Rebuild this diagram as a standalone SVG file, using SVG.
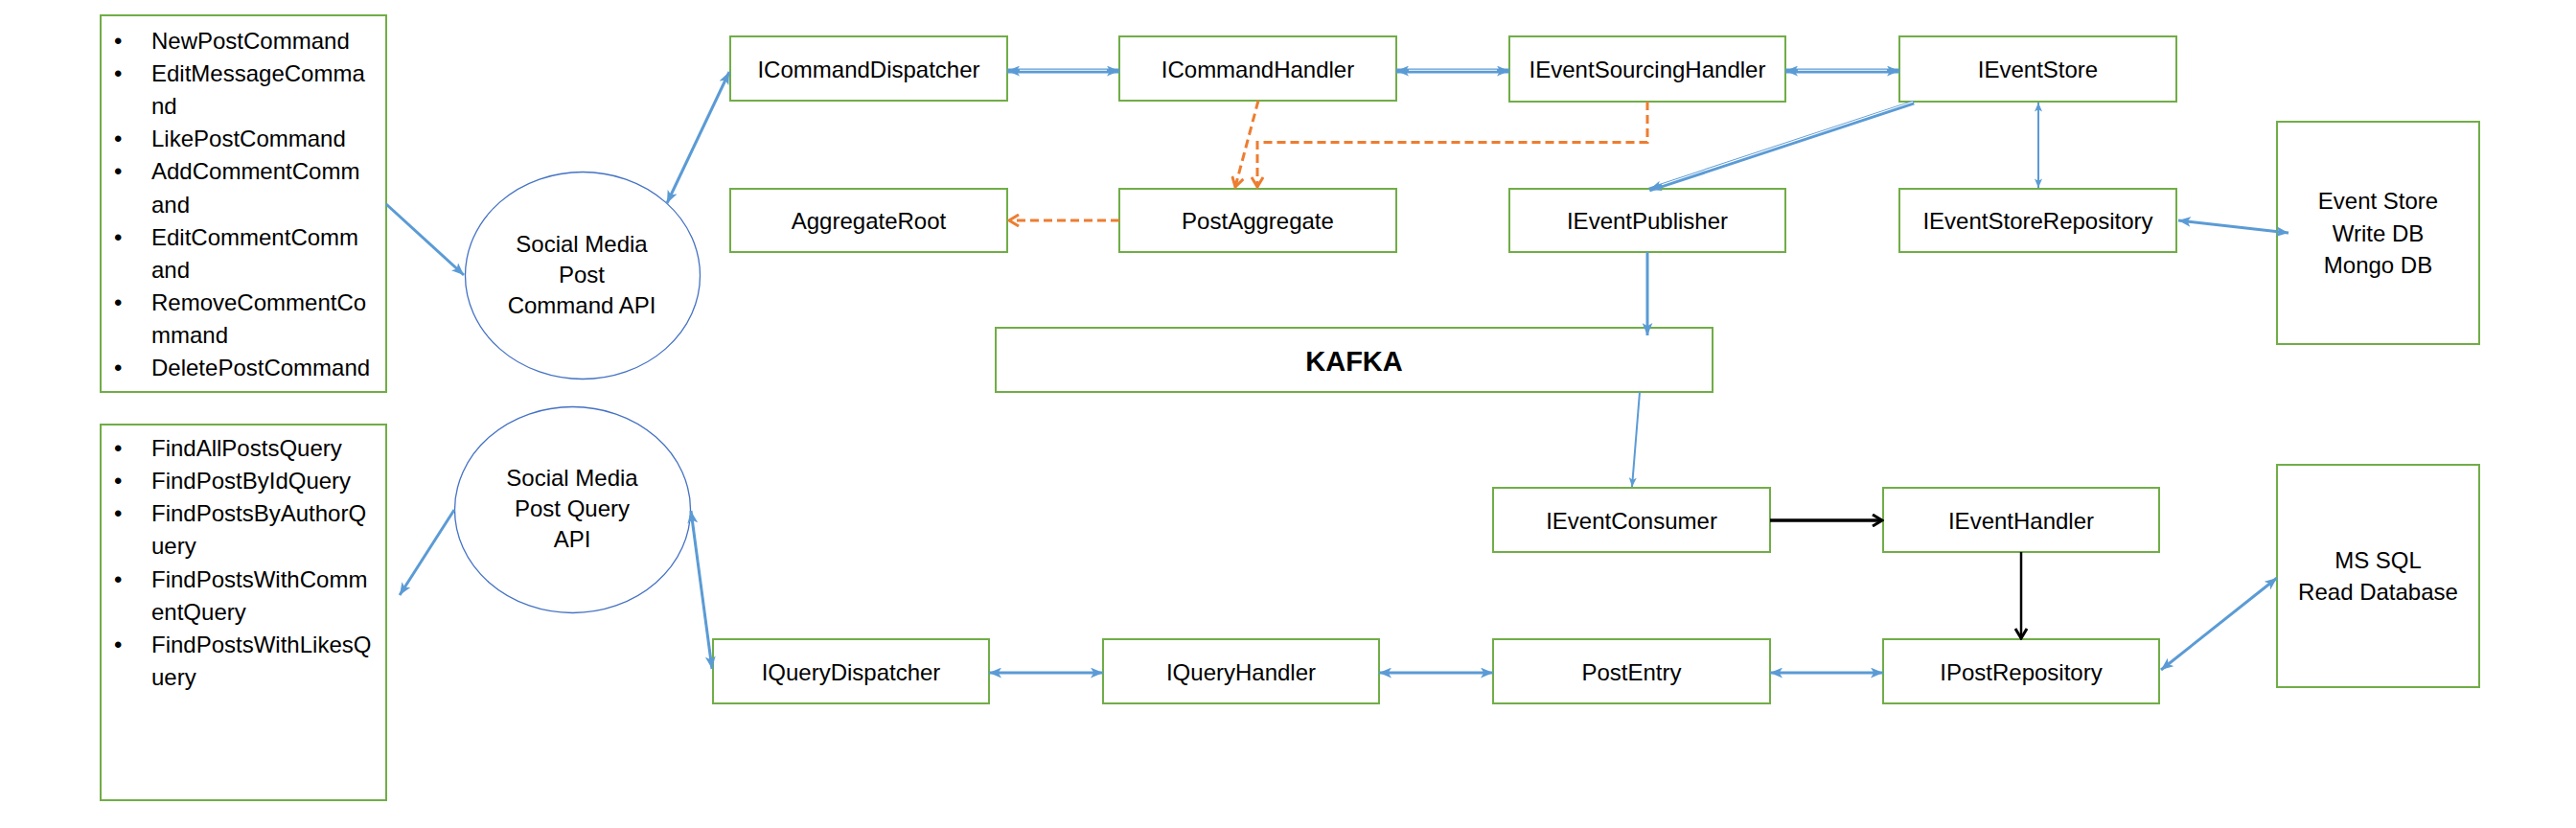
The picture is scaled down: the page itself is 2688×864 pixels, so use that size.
<svg xmlns="http://www.w3.org/2000/svg" width="2688" height="864" viewBox="0 0 2688 864">
<style>
.box{fill:#fff;stroke:#70AD47;stroke-width:2}
.ell{fill:#fff;stroke:#4472C4;stroke-width:1.3}
text{font-family:"Liberation Sans",Arial,sans-serif;font-size:24px;fill:#000}
.c{text-anchor:middle}
.b{font-weight:bold;font-size:29px}
.bl{fill:none;stroke:#5B9BD5;stroke-width:3}
.bl2{fill:none;stroke:#5B9BD5;stroke-width:2}
.dbl{fill:none;stroke:#5B9BD5;stroke-width:5}
.wh{fill:none;stroke:#fff;stroke-width:1.1}
.or{fill:none;stroke:#ED7D31;stroke-width:3;stroke-dasharray:9 5}
.bk{fill:none;stroke:#000;stroke-width:3.5}
.bk2{fill:none;stroke:#000;stroke-width:2.5}
</style>
<defs>
<marker id="ab" viewBox="0 0 12 10" refX="12" refY="5" markerWidth="13" markerHeight="11" markerUnits="userSpaceOnUse" orient="auto-start-reverse"><path d="M0,0 L12,5 L0,10 L3,5 z" fill="#5B9BD5"/></marker>
<marker id="abs" viewBox="0 0 12 10" refX="12" refY="5" markerWidth="10" markerHeight="8" markerUnits="userSpaceOnUse" orient="auto-start-reverse"><path d="M0,0 L12,5 L0,10 L3,5 z" fill="#5B9BD5"/></marker>
<marker id="ao" viewBox="0 0 14 14" refX="12" refY="7" markerWidth="14" markerHeight="14" markerUnits="userSpaceOnUse" orient="auto"><path d="M2,1 L12,7 L2,13" fill="none" stroke="#ED7D31" stroke-width="3"/></marker>
<marker id="ak" viewBox="0 0 14 14" refX="12" refY="7" markerWidth="14" markerHeight="14" markerUnits="userSpaceOnUse" orient="auto"><path d="M2,1 L12,7 L2,13" fill="none" stroke="#000" stroke-width="3"/></marker>
</defs>
<rect width="2688" height="864" fill="#fff"/>

<g id="commands">
<rect class="box" x="105" y="16" width="298" height="393"/>
<text x="119" y="50.7">•</text><text x="158" y="50.7">NewPostCommand</text>
<text x="119" y="85">•</text><text x="158" y="85">EditMessageComma</text>
<text x="158" y="119">nd</text>
<text x="119" y="153.3">•</text><text x="158" y="153.3">LikePostCommand</text>
<text x="119" y="187.3">•</text><text x="158" y="187.3">AddCommentComm</text>
<text x="158" y="221.7">and</text>
<text x="119" y="255.7">•</text><text x="158" y="255.7">EditCommentComm</text>
<text x="158" y="290">and</text>
<text x="119" y="324">•</text><text x="158" y="324">RemoveCommentCo</text>
<text x="158" y="358.3">mmand</text>
<text x="119" y="392.3">•</text><text x="158" y="392.3">DeletePostCommand</text>
</g>

<g id="queries">
<rect class="box" x="105" y="443" width="298" height="392"/>
<text x="119" y="476">•</text><text x="158" y="476">FindAllPostsQuery</text>
<text x="119" y="510">•</text><text x="158" y="510">FindPostByIdQuery</text>
<text x="119" y="544.3">•</text><text x="158" y="544.3">FindPostsByAuthorQ</text>
<text x="158" y="578.3">uery</text>
<text x="119" y="612.7">•</text><text x="158" y="612.7">FindPostsWithComm</text>
<text x="158" y="646.7">entQuery</text>
<text x="119" y="681">•</text><text x="158" y="681">FindPostsWithLikesQ</text>
<text x="158" y="715">uery</text>
</g>

<g id="commandApi">
<ellipse class="ell" cx="608" cy="287.5" rx="122.5" ry="108"/>
<text class="c" x="607" y="263">Social Media</text>
<text class="c" x="607" y="295">Post</text>
<text class="c" x="607" y="327">Command API</text>
</g>

<g id="queryApi">
<ellipse class="ell" cx="597.5" cy="532" rx="123" ry="107.5"/>
<text class="c" x="597" y="507.3">Social Media</text>
<text class="c" x="597" y="539.3">Post Query</text>
<text class="c" x="597" y="570.7">API</text>
</g>

<g id="commandDispatcher"><rect class="box" x="762" y="38" width="289" height="67"/><text class="c" x="906.5" y="81">ICommandDispatcher</text></g>
<g id="commandHandler"><rect class="box" x="1168" y="38" width="289" height="67"/><text class="c" x="1312.5" y="81">ICommandHandler</text></g>
<g id="eventSourcingHandler"><rect class="box" x="1575" y="38" width="288" height="68"/><text class="c" x="1719" y="81">IEventSourcingHandler</text></g>
<g id="eventStore"><rect class="box" x="1982" y="38" width="289" height="68"/><text class="c" x="2126.5" y="81">IEventStore</text></g>
<g id="aggregateRoot"><rect class="box" x="762" y="197" width="289" height="66"/><text class="c" x="906.5" y="239">AggregateRoot</text></g>
<g id="postAggregate"><rect class="box" x="1168" y="197" width="289" height="66"/><text class="c" x="1312.5" y="239">PostAggregate</text></g>
<g id="eventPublisher"><rect class="box" x="1575" y="197" width="288" height="66"/><text class="c" x="1719" y="239">IEventPublisher</text></g>
<g id="eventStoreRepository"><rect class="box" x="1982" y="197" width="289" height="66"/><text class="c" x="2126.5" y="239">IEventStoreRepository</text></g>
<g id="writeDb"><rect class="box" x="2376" y="127" width="211" height="232"/>
<text class="c" x="2481.5" y="218">Event Store</text>
<text class="c" x="2481.5" y="251.7">Write DB</text>
<text class="c" x="2481.5" y="285">Mongo DB</text></g>
<g id="kafka"><rect class="box" x="1039" y="342" width="748" height="67"/><text class="c b" x="1413" y="386.5">KAFKA</text></g>
<g id="eventConsumer"><rect class="box" x="1558" y="509" width="289" height="67"/><text class="c" x="1702.5" y="551.5">IEventConsumer</text></g>
<g id="eventHandler"><rect class="box" x="1965" y="509" width="288" height="67"/><text class="c" x="2109" y="551.5">IEventHandler</text></g>
<g id="readDb"><rect class="box" x="2376" y="485" width="211" height="232"/>
<text class="c" x="2481.5" y="592.7">MS SQL</text>
<text class="c" x="2481.5" y="626">Read Database</text></g>
<g id="queryDispatcher"><rect class="box" x="744" y="667" width="288" height="67"/><text class="c" x="888" y="709.5">IQueryDispatcher</text></g>
<g id="queryHandler"><rect class="box" x="1151" y="667" width="288" height="67"/><text class="c" x="1295" y="709.5">IQueryHandler</text></g>
<g id="postEntry"><rect class="box" x="1558" y="667" width="289" height="67"/><text class="c" x="1702.5" y="709.5">PostEntry</text></g>
<g id="postRepository"><rect class="box" x="1965" y="667" width="288" height="67"/><text class="c" x="2109" y="709.5">IPostRepository</text></g>

<g id="connectors">
<line class="bl" x1="403" y1="213" x2="484" y2="287" marker-end="url(#ab)"/>
<line class="bl" x1="696" y1="212" x2="761" y2="75" marker-start="url(#ab)" marker-end="url(#ab)"/>
<line class="dbl" x1="1051" y1="74" x2="1168" y2="74" marker-start="url(#ab)" marker-end="url(#ab)"/>
<line class="wh" x1="1064" y1="73.3" x2="1155" y2="73.3"/>
<line class="dbl" x1="1457" y1="74" x2="1575" y2="74" marker-start="url(#ab)" marker-end="url(#ab)"/>
<line class="wh" x1="1470" y1="73.3" x2="1562" y2="73.3"/>
<line class="dbl" x1="1863" y1="74" x2="1982" y2="74" marker-start="url(#ab)" marker-end="url(#ab)"/>
<line class="wh" x1="1876" y1="73.3" x2="1969" y2="73.3"/>
<line class="dbl" x1="1997" y1="107" x2="1721" y2="198" marker-end="url(#ab)"/>
<line class="wh" x1="1996" y1="106.3" x2="1734" y2="192.7"/>
<line class="bl2" x1="2127" y1="107" x2="2127" y2="196" marker-start="url(#abs)" marker-end="url(#abs)"/>
<line class="bl" x1="2273" y1="230" x2="2388" y2="243" marker-start="url(#ab)" marker-end="url(#ab)"/>
<line class="bl" x1="1719" y1="263" x2="1719" y2="350" stroke-width="2.5" marker-end="url(#ab)"/>
<line class="bl2" x1="1711" y1="409" x2="1703" y2="508" marker-end="url(#abs)"/>
<polyline class="or" points="1168,230 1053,230" marker-end="url(#ao)"/>
<polyline class="or" points="1313,105 1289,195" marker-end="url(#ao)"/>
<polyline class="or" points="1719,106 1719,148.5 1312,148.5 1312,195" marker-end="url(#ao)"/>
<line class="bk" x1="1847" y1="543" x2="1964" y2="543" marker-end="url(#ak)"/>
<line class="bk2" x1="2109" y1="576" x2="2109" y2="666" marker-end="url(#ak)"/>
<line class="bl" x1="474" y1="532" x2="417" y2="621" marker-end="url(#ab)"/>
<line class="bl" x1="721" y1="533" x2="743" y2="698" marker-start="url(#ab)" marker-end="url(#ab)"/>
<line class="bl" x1="1032" y1="702" x2="1151" y2="702" stroke-width="4" marker-start="url(#ab)" marker-end="url(#ab)"/>
<line class="bl" x1="1439" y1="702" x2="1558" y2="702" stroke-width="4" marker-start="url(#ab)" marker-end="url(#ab)"/>
<line class="bl" x1="1847" y1="702" x2="1965" y2="702" stroke-width="4" marker-start="url(#ab)" marker-end="url(#ab)"/>
<line class="bl" x1="2255" y1="699" x2="2376" y2="603" marker-start="url(#ab)" marker-end="url(#ab)"/>
</g>
</svg>
